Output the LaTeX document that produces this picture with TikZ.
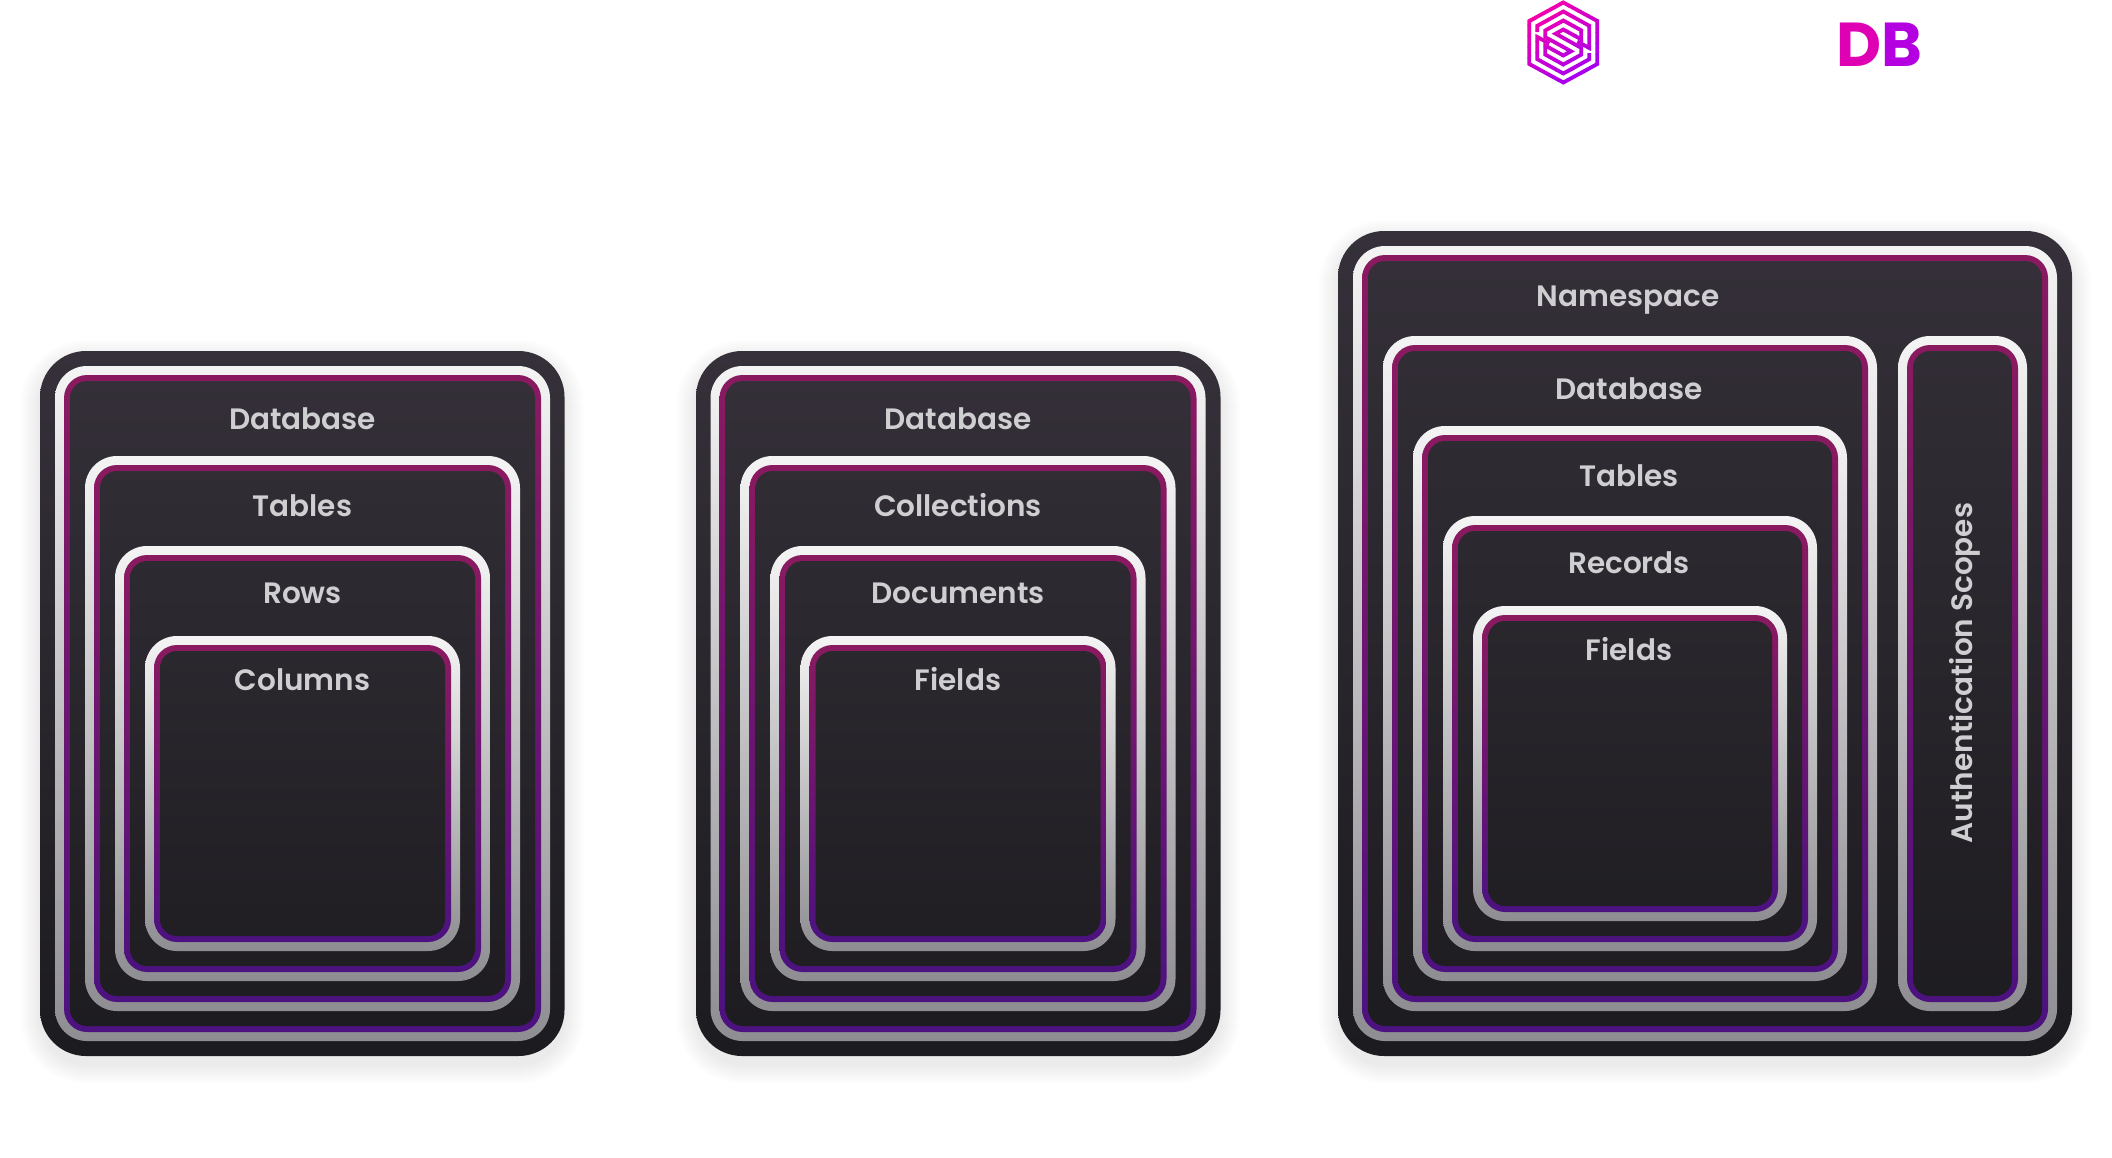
\documentclass[tikz,border=0pt]{standalone}
\usepackage{fontspec}
\setmainfont{Poppins SemiBold}
\newfontfamily\logofont{Poppins Bold}

\definecolor{cardtop}{HTML}{353039}
\definecolor{cardlow}{HTML}{1C1B1F}
\definecolor{ringtop}{HTML}{F4F4F4}
\definecolor{ringlow}{HTML}{8E8E92}
\definecolor{glowtop}{HTML}{8A1A60}
\definecolor{glowlow}{HTML}{4C1280}
\definecolor{labeltext}{HTML}{CFCFD2}
\definecolor{logopink}{HTML}{FF00A0}
\definecolor{logoviolet}{HTML}{9600FF}

\tikzset{
  layer/.style={rectangle, inner sep=0pt, outer sep=0pt, shading angle=14},
  cardbase/.style={layer, top color=cardtop, bottom color=cardlow, rounded corners=46pt},
  ringwhite/.style={layer, top color=ringtop, bottom color=ringlow, rounded corners=32pt},
  ringglow/.style={layer, top color=glowtop, bottom color=glowlow, rounded corners=23pt},
  ringfill/.style={rectangle, inner sep=0pt, outer sep=0pt, top color=fillhigh, bottom color=filldeep, rounded corners=17pt},
  shadowlayer/.style={rectangle, inner sep=0pt, fill=black, fill opacity=0.005},
  tag/.style={anchor=base, text=labeltext, font=\fontsize{29.5}{30}\selectfont},
  logoline/.style={line width=3.8pt, line join=miter, miter limit=10},
}

% left, top, right, bottom of a ring, in pixels
\newcommand{\ringbox}[5]{
  \pgfmathsetmacro{\cx}{(#2+#4)/2}
  \pgfmathsetmacro{\cy}{(#3+#5)/2}
  \pgfmathsetmacro{\boxw}{#4-#2}
  \pgfmathsetmacro{\boxh}{#5-#3}
  % the dark inside follows the card, not the ring
  \pgfmathsetmacro{\fillfrom}{100-(#3+15-\cardup)/(\carddown-\cardup)*100}
  \pgfmathsetmacro{\fillto}{100-(#5-15-\cardup)/(\carddown-\cardup)*100}
  \colorlet{fillhigh}{cardtop!\fillfrom!cardlow}
  \colorlet{filldeep}{cardtop!\fillto!cardlow}
  \node[ringwhite, minimum width=\boxw pt, minimum height=\boxh pt] (#1white) at (\cx,\cy) {};
  \node[ringglow, minimum width=\boxw pt-18pt, minimum height=\boxh pt-18pt] (#1glow) at (\cx,\cy) {};
  \node[ringfill, minimum width=\boxw pt-30pt, minimum height=\boxh pt-30pt] (#1) at (\cx,\cy) {};
}
\newcommand{\cardbox}[5]{
  \pgfmathsetmacro{\cx}{(#2+#4)/2}
  \pgfmathsetmacro{\cy}{(#3+#5)/2}
  \pgfmathsetmacro{\boxw}{#4-#2}
  \pgfmathsetmacro{\boxh}{#5-#3}
  \def\cardup{#3}
  \def\carddown{#5}
  \foreach \s in {1,...,20}
    \node[shadowlayer, rounded corners=46pt+\s pt, minimum width=\boxw pt+2*\s pt, minimum height=\boxh pt+2*\s pt]
      at (\cx,\cy+8) {};
  \node[cardbase, minimum width=\boxw pt, minimum height=\boxh pt] (#1) at (\cx,\cy) {};
}
\newcommand{\logolines}{
  \draw[logoline] (0,-40) -- (34,-21.5) -- (34,21.5) -- (0,40) -- (-34,21.5) -- (-34,-21.5) -- cycle;
  \draw[logoline] (-26,-10.5) -- (-26,-16.7) -- (0,-31) -- (26,-16.7) -- (26,5.5) -- (14,-1);
  \draw[logoline] (26,10.5) -- (26,16.7) -- (0,31) -- (-26,16.7) -- (-26,-5.5) -- (-14,1);
  \draw[logoline] (18,-12.1) -- (0,-22) -- (-18,-12.1) -- (-18,-5.4) -- (7.7,8.8) -- (0,13) -- (-18,3.1)
    -- (-18,12.1) -- (0,22) -- (18,12.1) -- (18,5.4) -- (-7.7,-8.8) -- (0,-13) -- (18,-3.1) -- cycle;
}

\begin{document}
\begin{tikzpicture}[x=1pt, y=-1pt]
  \useasboundingbox (0,0) rectangle (2112,1157);

  % relational
  \cardbox{relCard}{40}{351}{564.5}{1056}
  \ringbox{relDatabase}{55}{366}{550}{1041}
  \ringbox{relTables}{85}{456}{520}{1011}
  \ringbox{relRows}{115}{546}{490}{981}
  \ringbox{relColumns}{145}{636}{460}{951}
  \node[tag] (relDatabaseTag) at (302.5,429) {Database};
  \node[tag] (relTablesTag) at (302.5,516) {Tables};
  \node[tag] (relRowsTag) at (302.5,603) {Rows};
  \node[tag] (relColumnsTag) at (302.5,690) {Columns};

  % document
  \cardbox{docCard}{696}{351}{1220.5}{1056}
  \ringbox{docDatabase}{710.5}{366}{1205.5}{1041}
  \ringbox{docCollections}{740.5}{456}{1175.5}{1011}
  \ringbox{docDocuments}{770.5}{546}{1145.5}{981}
  \ringbox{docFields}{800.5}{636}{1115.5}{951}
  \node[tag] (docDatabaseTag) at (958,429) {Database};
  \node[tag] (docCollectionsTag) at (958,516) {Collections};
  \node[tag] (docDocumentsTag) at (958,603) {Documents};
  \node[tag] (docFieldsTag) at (958,690) {Fields};

  % surreal
  \cardbox{surCard}{1338}{231}{2072}{1056}
  \ringbox{surNamespace}{1353}{246}{2057}{1041}
  \ringbox{surDatabase}{1383}{336}{1877}{1011}
  \ringbox{surTables}{1413}{426}{1847}{981}
  \ringbox{surRecords}{1443}{516}{1817}{951}
  \ringbox{surFields}{1473}{606}{1787}{921}
  \ringbox{surScopes}{1898}{336}{2027}{1011}
  \node[tag] (surNamespaceTag) at (1628,306) {Namespace};
  \node[tag] (surDatabaseTag) at (1629,399) {Database};
  \node[tag] (surTablesTag) at (1629,486) {Tables};
  \node[tag] (surRecordsTag) at (1629,573) {Records};
  \node[tag] (surFieldsTag) at (1629,660) {Fields};
  \node[tag, anchor=center, rotate=90] (surScopesTag) at (1965,673) {Authentication Scopes};

  % logo
  \foreach \i in {0,...,11} {
    \pgfmathsetmacro{\mixval}{100-\i*100/11}
    \begin{scope}[shift={(1563.3,42.5)}]
      \clip[rotate=35] (-60,{-53+\i*9}) rectangle (60,{-44+\i*9+0.5});
      \colorlet{stripcolor}{logopink!\mixval!logoviolet}
      \begin{scope}[color=stripcolor]
        \logolines
      \end{scope}
    \end{scope}
  }
  \node[anchor=base west, inner sep=0pt, font=\logofont\fontsize{62}{62}\selectfont] (logoDB) at (1836,66)
    {\textcolor[HTML]{E000B4}{D}\textcolor[HTML]{B400E0}{B}};
\end{tikzpicture}
\end{document}
